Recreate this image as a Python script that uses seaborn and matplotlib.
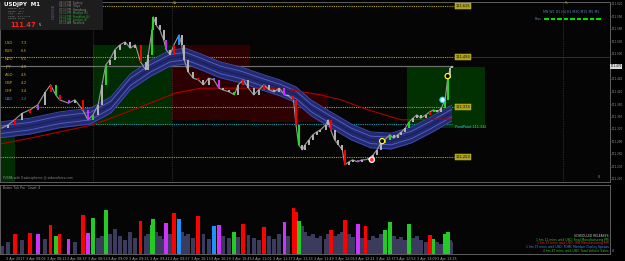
import matplotlib
matplotlib.use("Agg")
import matplotlib.pyplot as plt
import matplotlib.patches as mpatches
import seaborn as sns
import pandas as pd
import numpy as np

sns.set_style("dark")
plt.rcParams['font.family'] = ['DejaVu Sans']

# ---------------- data ----------------
# minutes after 07:49 (3 Apr 2017), M1 USDJPY
minute = [-8, -3, 2, 8, 14, 20, 26, 30, 34, 37, 44, 49, 55, 59, 63, 67, 70, 73, 76, 80,
          84, 88, 92, 96, 100, 104, 106, 109, 110, 112, 115, 118, 120, 123, 126, 130, 132, 134, 137, 141,
          145, 149, 153, 157, 161, 164, 169, 173, 176, 180, 184, 188, 192, 196, 200, 204, 208, 212, 215, 219,
          221, 223, 226, 228, 231, 234, 237, 240, 244, 246, 248, 251, 254, 257, 259, 262, 265, 269, 272, 275,
          278, 281, 284, 287, 290, 294, 297, 300, 303, 306, 309, 312, 315, 318, 322, 325, 328, 331, 334, 337,
          339, 341, 342]
close = [111.322, 111.330, 111.342, 111.358, 111.366, 111.378, 111.409, 111.426, 111.402, 111.390,
         111.382, 111.390, 111.366, 111.342, 111.354, 111.378, 111.426, 111.474, 111.486, 111.510,
         111.522, 111.529, 111.514, 111.522, 111.481, 111.462, 111.498, 111.558, 111.589, 111.570,
         111.558, 111.534, 111.510, 111.498, 111.522, 111.546, 111.522, 111.486, 111.457, 111.442,
         111.438, 111.426, 111.442, 111.438, 111.418, 111.414, 111.409, 111.402, 111.426, 111.438,
         111.418, 111.402, 111.414, 111.426, 111.414, 111.409, 111.418, 111.402, 111.399, 111.390,
         111.330, 111.282, 111.270, 111.282, 111.294, 111.306, 111.313, 111.318, 111.330, 111.342,
         111.318, 111.294, 111.282, 111.270, 111.234, 111.241, 111.246, 111.241, 111.246, 111.246,
         111.250, 111.258, 111.270, 111.286, 111.294, 111.306, 111.298, 111.306, 111.313, 111.322,
         111.337, 111.346, 111.354, 111.346, 111.354, 111.361, 111.366, 111.361, 111.370, 111.390,
         111.442, 111.466, 111.470]
volume = [8, 12, 20, 14, 21, 20, 15, 29, 18, 20, 15, 12, 39, 21, 36, 16, 18, 44, 20, 25,
          18, 14, 22, 16, 33, 18, 20, 29, 35, 22, 18, 15, 31, 20, 41, 35, 22, 18, 20, 16,
          38, 20, 15, 28, 29, 18, 16, 22, 17, 30, 19, 16, 14, 27, 18, 15, 20, 32, 18, 46,
          42, 33, 28, 22, 18, 20, 16, 18, 15, 20, 24, 18, 20, 22, 34, 20, 17, 30, 16, 28,
          14, 18, 16, 20, 24, 32, 18, 15, 17, 14, 30, 16, 18, 14, 12, 19, 15, 12, 10, 20,
          22, 14, 12]
# PVSRA class: n normal, r red climax, G green climax, m magenta, b blue
pvsra = list("nnrnrmnrGrmnrmGnnGnnnnnnrnnGGnnnmnrbnnnnrnnbmnnGnrnnnrnnnmnrrGnnnnnnnnrnnnrnnmnrnnnnGGnnnnGnnnnrGnnGGnn")

band_min = [-9, 14, 37, 61, 77, 92, 108, 123, 135, 147, 162, 178, 194, 209, 221, 233, 248, 264, 279, 295, 311, 326, 342]
band_mid = [111.318, 111.327, 111.342, 111.351, 111.378, 111.433, 111.466, 111.490, 111.495, 111.481,
            111.462, 111.450, 111.433, 111.418, 111.402, 111.370, 111.342, 111.313, 111.294, 111.291,
            111.306, 111.330, 111.358]
ma_min = [-9, 14, 37, 63, 84, 110, 127, 147, 199, 217, 240, 256, 277, 303, 342]
ma_val = [111.284, 111.298, 111.313, 111.330, 111.354, 111.385, 111.406, 111.418, 111.418, 111.414,
          111.402, 111.390, 111.366, 111.342, 111.344]

# supply / demand zones: (start min, end min, low, high, colour)
zones = [(-9.4, 2.3, 111.190, 111.330, '#012e01'),
         (63.0, 124.5, 111.330, 111.522, '#012b01'),
         (124.5, 185.3, 111.342, 111.522, '#2d0101'),
         (185.3, 246.0, 111.337, 111.406, '#2d0101'),
         (307.0, 368.0, 111.322, 111.469, '#013001')]
levels = [111.615, 111.493, 111.373, 111.253]
pivot = 111.332
current = 111.470
signals_min = [339, 335, 288, 280]
signals_px = [111.447, 111.390, 111.291, 111.246]
signals_ec = ['#ffff00', '#30d0ff', '#ffff00', '#ffffff']
signals_fc = ['#000000', '#ffffff', '#000000', '#ff3030']

price_ticks = [111.620, 111.590, 111.560, 111.530, 111.500, 111.470, 111.440, 111.410,
               111.380, 111.350, 111.320, 111.290, 111.260, 111.230, 111.200]
time_labels = ["3 Apr 2017", "3 Apr 08:05", "3 Apr 08:21", "3 Apr 08:37", "3 Apr 08:53", "3 Apr 09:09",
               "3 Apr 09:25", "3 Apr 09:41", "3 Apr 09:57", "3 Apr 10:13", "3 Apr 10:29", "3 Apr 10:45",
               "3 Apr 11:01", "3 Apr 11:17", "3 Apr 11:33", "3 Apr 11:49", "3 Apr 12:05", "3 Apr 12:21",
               "3 Apr 12:37", "3 Apr 12:53", "3 Apr 13:09", "3 Apr 13:25"]
time_ticks = [-5, 11, 27, 43, 59, 75, 91, 107, 123, 139, 155, 171, 187, 203, 219, 235, 251, 267, 283, 299, 315, 331]

currencies = ["USD", "EUR", "NZD", "JPY", "AUD", "GBP", "CHF", "CAD"]
strength = ["7.3", "6.5", "5.1", "4.9", "4.5", "4.2", "3.4", "1.3"]
sessions = ["09:13 PM  Sydney", "08:13 PM  Tokyo", "07:13 PM  Hongkong", "02:13 PM  Moscow (6)",
            "01:13 PM  Frankfurt (4)", "12:13 PM  London (3)", "07:13 AM  NewYork"]
session_open = [False, False, False, True, True, True, False]
releases = ["SCHEDULED RELEASES:",
            "1 hrs 11 mins until USD: Final Manufacturing PMI",
            "1 hrs 17 mins until USD: ISM Manufacturing PMI",
            "1 hrs 37 mins until USD: FOMC Member Dudley Speaks",
            "4 hrs 47 mins until USD: Total Vehicle Sales"]
release_col = ['#c8c8c8', '#22cc22', '#ff2020', '#3a8fff', '#22cc22']

n = min(len(minute), len(close), len(volume), len(pvsra))
minute, close, volume, pvsra = minute[:n], close[:n], volume[:n], pvsra[:n]

candle_pal = {'n': '#b4b4b4', 'r': '#ff0000', 'G': '#22dd22', 'm': '#cc33ff', 'b': '#1e90ff'}
vol_pal = {'n': '#3b3b5e', 'r': '#ff0000', 'G': '#22cc22', 'm': '#cc33ff', 'b': '#1e90ff'}

# ---------------- figure ----------------
W, H = 625, 261
fig = plt.figure(figsize=(6.25, 2.61), dpi=100, facecolor='black')
def fx(p): return p / W
def fy(p): return 1 - p / H

ax = fig.add_axes([0.0, fy(182), fx(610), fy(2) - fy(182)])
axv = fig.add_axes([0.0, fy(254), fx(610), fy(185) - fy(254)])
XL = (-9.34, 465.3)
for a in (ax, axv):
    a.set_facecolor('#050505')
    a.set_xlim(*XL)
    for s in a.spines.values():
        s.set_color('#5e5e5e')
        s.set_linewidth(0.7)
    a.grid(False)
ax.set_ylim(111.1928, 111.6248)
axv.set_ylim(0, 69)

# zones
for x0, x1, lo, hi, c in zones:
    ax.add_patch(mpatches.Rectangle((x0, lo), x1 - x0, hi - lo, color=c, lw=0, zorder=0.5))

# vertical session dividers
for vx in [63.0, 124.5, 428.8]:
    ax.axvline(vx, color='#505050', lw=0.5, ls=(0, (1, 1.5)), zorder=0.8)

# horizontal levels
for lv in levels:
    ax.hlines(lv, XL[0], 344, color='#b8a800', lw=0.8, ls=(0, (1, 1)), zorder=1)
    ax.text(345, lv, f"{lv:.3f}", fontsize=2.6, color='#202000', va='center', ha='left', zorder=6,
            bbox=dict(boxstyle='square,pad=0.2', fc='#a89c1e', ec='#e0d040', lw=0.3))
ax.hlines(levels[1], 356, XL[1], color='#005c00', lw=0.6, zorder=1)
ax.hlines(pivot, XL[0], 342, color='#1aa0aa', lw=0.8, ls=(0, (1, 1)), zorder=1)
ax.text(345, pivot - 0.007, f"PivotPoint {pivot:.3f}", fontsize=2.4, color='#40c8d8', va='center', ha='left', zorder=6)
ax.hlines(current, XL[0], 343, color='#6c6c6c', lw=0.9, zorder=1)

# MA envelope band
bm = np.array(band_mid)
ax.fill_between(band_min, bm - 0.019, bm + 0.019, color='#242a70', lw=0, zorder=2)
for off, c, lw in [(0.019, '#3c48a8', 0.7), (-0.019, '#3c48a8', 0.7), (0.009, '#5563c8', 0.6), (-0.009, '#5563c8', 0.6)]:
    sns.lineplot(x=band_min, y=bm + off, color=c, lw=lw, ax=ax, zorder=2.1)
sns.lineplot(x=band_min, y=bm, color='#1a1f58', lw=0.8, ax=ax, zorder=2.1)

# slow MA
sns.lineplot(x=ma_min, y=ma_val, color='#b00000', lw=0.8, ax=ax, zorder=2.5)

# price bars
sns.lineplot(x=minute, y=close, color='#9a9a9a', lw=0.8, ax=ax, zorder=3)
lo = [min(close[i - 1], close[i]) for i in range(1, n)]
hi = [max(close[i - 1], close[i]) for i in range(1, n)]
ax.vlines(minute[1:], lo, hi, colors=[candle_pal[c] for c in pvsra[1:]], lw=1.4, zorder=3.5)

# signal markers
ax.scatter(signals_min, signals_px, s=14, facecolors=signals_fc, edgecolors=signals_ec, linewidths=0.9, zorder=5)

# right price axis
ax.yaxis.tick_right()
ax.set_yticks(price_ticks)
ax.set_yticklabels([f"{p:.3f}" for p in price_ticks])
ax.tick_params(axis='y', colors='#9a9a9a', labelsize=2.0, length=1.0, width=0.4, pad=0.4)
ax.set_xticks([])
ax.set_ylabel("")
ax.text(1.001, current, f"{current:.3f}", transform=ax.get_yaxis_transform(), fontsize=2.0, color='#000000',
        va='center', ha='left', zorder=7, clip_on=False,
        bbox=dict(boxstyle='square,pad=0.15', fc='#d8d8d8', ec='none'))

# volume
df = pd.DataFrame({'minute': minute, 'vol': volume, 'cls': pvsra})
sns.barplot(data=df, x='minute', y='vol', hue='cls', palette=vol_pal, native_scale=True, dodge=False,
            width=3.0, errorbar=None, legend=False, saturation=1, linewidth=0, ax=axv)
axv.set_xlim(*XL)
axv.set_xlabel("")
axv.set_ylabel("")
axv.set_yticks([])
axv.set_xticks(time_ticks)
axv.set_xticklabels(time_labels, ha='left')
axv.tick_params(axis='x', colors='#a8a8a8', labelsize=2.45, length=1.5, width=0.4, pad=0.8)

# ---------------- overlay texts ----------------
fig.patches.append(mpatches.Rectangle((0, fy(29)), fx(102), fy(0) - fy(29), transform=fig.transFigure,
                                      fc='#1d1d1d', ec='#2a2a2a', lw=0.4, zorder=2))
fig.text(fx(4), fy(4.5), "USDJPY  M1", fontsize=4.0, color='white', weight='bold', va='center', zorder=4)
info = ["Spread:  0.30", "Range:   21.4", "ADR:     55.7", "Swap:  -0.37 / 0.11", "Candle: 02:33"]
for i, t in enumerate(info):
    fig.text(fx(8), fy(8.5 + 2.6 * i), t, fontsize=1.7, color='#9a9a9a', va='center', zorder=4)
fig.text(fx(10), fy(25), "111.47", fontsize=4.8, color='#ff2020', weight='bold', va='center', zorder=4)
fig.text(fx(39), fy(25.5), "5", fontsize=2.6, color='#dddddd', va='center', zorder=4)
fig.text(fx(51), fy(13), "SESSIONS", fontsize=2.2, color='#6a5ab0', rotation=270, va='center', ha='center', zorder=4)
for i, (s, op) in enumerate(zip(sessions, session_open)):
    fig.text(fx(59), fy(3 + 3.4 * i), s, fontsize=1.9, color='#22bb22' if op else '#8c8c8c', va='center', zorder=4)

for i, (c, v) in enumerate(zip(currencies, strength)):
    col = '#3a7fd0' if c == "CAD" else '#d4a017'
    fig.text(fx(5), fy(43 + 8 * i), c, fontsize=2.8, color=col, va='center', zorder=4)
    fig.text(fx(21), fy(43 + 8 * i), v, fontsize=2.8, color=col, va='center', zorder=4)

fig.text(fx(543), fy(12), "MN W1 D1 H4 H1 M30 M15 M5 M1", fontsize=2.3, color='#5b80b8', va='center', zorder=4)
fig.text(fx(535), fy(19), "Bias", fontsize=2.3, color='#5b80b8', va='center', zorder=4)
for k in range(9):
    fig.patches.append(mpatches.Rectangle((fx(544 + 6.5 * k), fy(20)), fx(4.5), fy(18) - fy(20),
                                          transform=fig.transFigure, fc='#00dd00', lw=0, zorder=3))
fig.text(fx(173), fy(3), "1A", fontsize=2.2, color='#b8a800', va='center', zorder=4)
fig.text(fx(565), fy(3), "5h", fontsize=2.2, color='#b8a800', va='center', zorder=4)
fig.text(fx(3), fy(178), "PVSRA with Tradersphome @ stdonaforex.com", fontsize=2.2, color='#8a8a8a', va='center', zorder=4)
fig.text(fx(598), fy(177), "8", fontsize=2.4, color='#8a8a8a', va='center', zorder=4)
fig.text(fx(3), fy(188), "Better Tick Pro   Count: 4", fontsize=2.2, color='#9a9a9a', va='center', zorder=4)
fig.text(fx(612), fy(251), "0", fontsize=2.4, color='#9a9a9a', va='center', zorder=4)
for i, (t, c) in enumerate(zip(releases, release_col)):
    fig.text(fx(609), fy(236 + 3.7 * i), t, fontsize=2.2, color=c, va='center', ha='right', zorder=4)

fig.savefig("out.png", dpi=100, facecolor='black')
